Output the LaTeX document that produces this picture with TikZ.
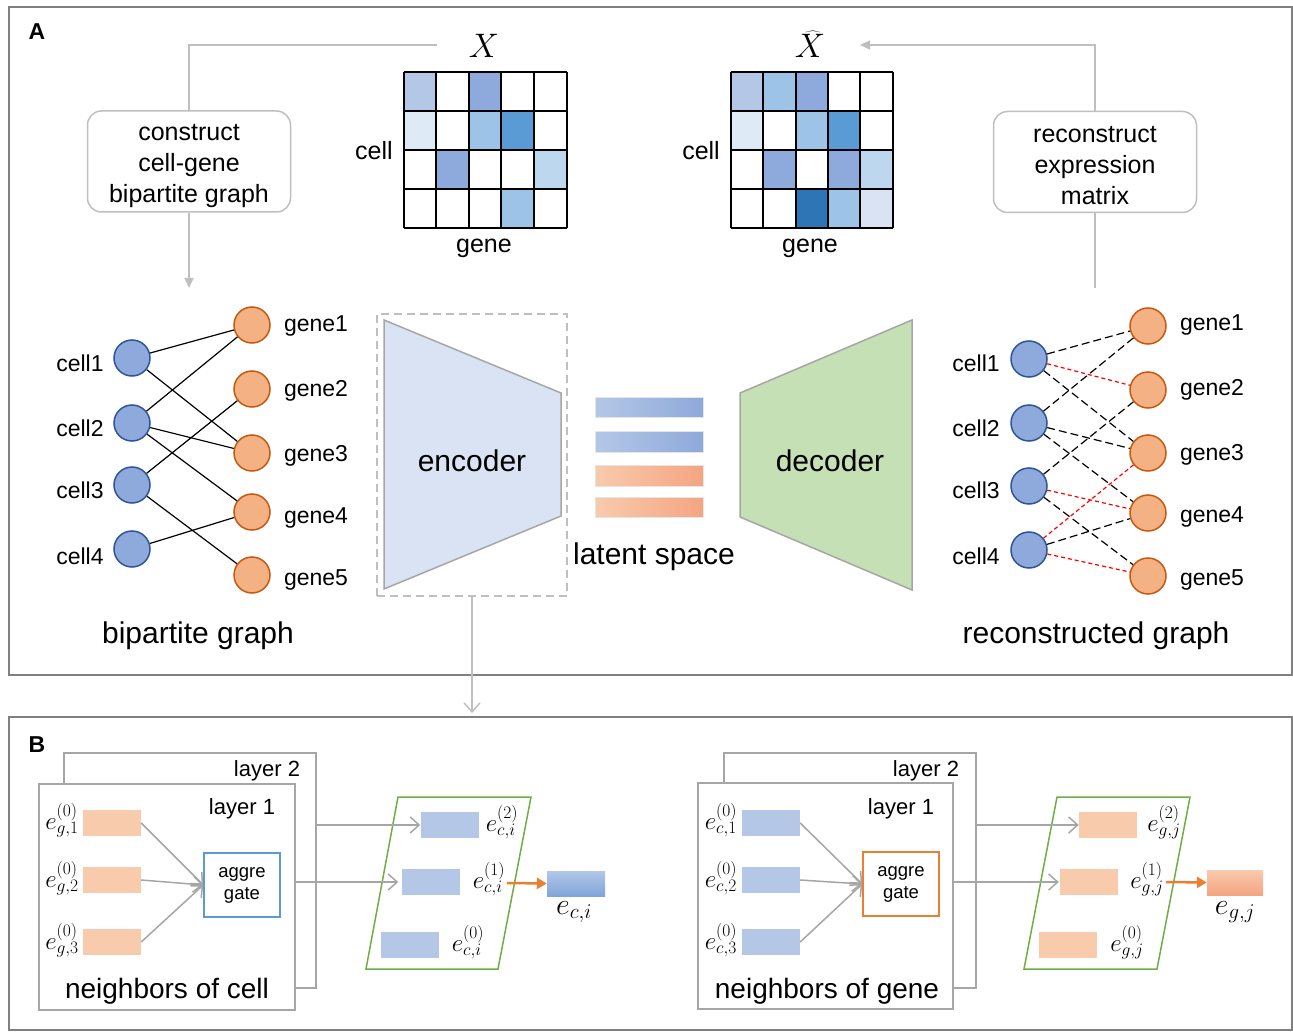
\RequirePackage{fix-cm}
\documentclass[tikz,border=0pt]{standalone}
\usepackage{fontspec}
\setmainfont{Liberation Sans}
\usetikzlibrary{arrows.meta,shapes.geometric}
\newcommand{\myfs}[2]{\fontsize{#1}{#2}\selectfont}
\definecolor{frame}{HTML}{808080}
\definecolor{connc}{HTML}{BFBFBF}
\definecolor{layc}{HTML}{A6A6A6}
\definecolor{cellfill}{HTML}{8EA9DB}
\definecolor{celldraw}{HTML}{2F5597}
\definecolor{genefill}{HTML}{F4B183}
\definecolor{genedraw}{HTML}{C55A11}
\definecolor{mA}{HTML}{B4C7E7}
\definecolor{mB}{HTML}{9DC3E6}
\definecolor{mC}{HTML}{8EA9DB}
\definecolor{mD}{HTML}{5B9BD5}
\definecolor{mE}{HTML}{DEEBF7}
\definecolor{mF}{HTML}{BDD7EE}
\definecolor{mG}{HTML}{2E75B6}
\definecolor{mH}{HTML}{DAE3F3}
\definecolor{encfill}{HTML}{DAE3F3}
\definecolor{decfill}{HTML}{C5E0B4}
\definecolor{trapdraw}{HTML}{A6A6A6}
\definecolor{bluebar}{HTML}{B4C7E7}
\definecolor{orbar}{HTML}{F8CBAD}
\definecolor{ordark}{HTML}{F4A582}
\definecolor{greenp}{HTML}{70AD47}
\definecolor{orarrow}{HTML}{ED7D31}
\definecolor{aggblue}{HTML}{5B9BD5}
\begin{document}
\begin{tikzpicture}[x=1pt,y=-1pt,
  panelframe/.style={draw=frame, line width=2pt},
  conn/.style={draw=connc, line width=1.5pt},
  roundbox/.style={draw=connc, line width=1.5pt, rounded corners=14pt, minimum width=203pt, minimum height=101pt, inner sep=0pt},
  boxtext/.style={align=center, font=\myfs{25}{31}, inner sep=0pt},
  cellnode/.style={circle, fill=cellfill, draw=celldraw, line width=1.5pt, minimum size=36pt, inner sep=0pt},
  genenode/.style={circle, fill=genefill, draw=genedraw, line width=1.5pt, minimum size=36pt, inner sep=0pt},
  lab/.style={font=\myfs{23}{28}, inner sep=0pt},
  biglab/.style={font=\myfs{30}{35}, inner sep=0pt},
  edgeline/.style={draw=black, line width=1.2pt},
  dedge/.style={draw=black, line width=1.2pt, dash pattern=on 8pt off 4pt},
  redge/.style={draw=red, line width=1.2pt, dash pattern=on 4pt off 3pt},
  layerbox/.style={draw=layc, line width=1.5pt, fill=white, inner sep=0pt},
  barrow/.style={draw=layc, line width=1.5pt, -{Straight Barb[length=9pt,width=16pt]}},
  emb/.style={inner sep=0pt, minimum width=58pt, minimum height=26pt},
  elab/.style={inner sep=0pt, font=\myfs{25}{29}},
  aggbox/.style={draw, line width=1.5pt, minimum width=76pt, minimum height=64pt, align=center, font=\myfs{18.5}{22}, inner sep=0pt},
  orarr/.style={draw=orarrow, line width=2.5pt, -{Triangle[length=10pt,width=11pt]}},
  para/.style={draw=greenp, line width=1.5pt}
]
\useasboundingbox (0,0) rectangle (1293,1032);

% ---------- panel frames ----------
\draw[panelframe] (9,7) rectangle (1292,675);
\draw[panelframe] (9,717) rectangle (1292,1030);
\node[font=\bfseries\myfs{23}{26}] (labA) at (37,32) {A};
\node[font=\bfseries\myfs{23}{26}] (labB) at (37,745) {B};

% ---------- matrix X ----------
\foreach \c/\r/\col in {1/1/mA,3/1/mC,1/2/mE,3/2/mB,4/2/mD,2/3/mC,5/3/mF,4/4/mB}
  \fill[\col] ({403.5+(\c-1)*32.6},{72+(\r-1)*39}) rectangle ++(32.6,39);
\foreach \i in {0,...,5} \draw[line width=2pt] ({403.5+\i*32.6},72) -- ({403.5+\i*32.6},228);
\foreach \j in {0,...,4} \draw[line width=2pt] (403.5,{72+\j*39}) -- (566.5,{72+\j*39});
\node[font=\myfs{34}{38}] (Xlab) at (484,46) {$X$};
\node[lab, font=\myfs{25}{30}] (Xcell) at (374,151) {cell};
\node[lab, font=\myfs{25}{30}] (Xgene) at (484,248) {gene};

% ---------- matrix X hat ----------
\foreach \c/\r/\col in {1/1/mA,2/1/mB,3/1/mC,1/2/mE,3/2/mB,4/2/mD,2/3/mC,4/3/mC,5/3/mF,3/4/mG,4/4/mB,5/4/mH}
  \fill[\col] ({731+(\c-1)*32.3},{72+(\r-1)*39}) rectangle ++(32.3,39);
\foreach \i in {0,...,5} \draw[line width=2pt] ({731+\i*32.3},72) -- ({731+\i*32.3},228);
\foreach \j in {0,...,4} \draw[line width=2pt] (731,{72+\j*39}) -- (892.5,{72+\j*39});
\node[font=\myfs{34}{38}] (Xhlab) at (810,44) {$\widehat{X}$};
\node[lab, font=\myfs{25}{30}] (Xhcell) at (701,151) {cell};
\node[lab, font=\myfs{25}{30}] (Xhgene) at (810,248) {gene};

% ---------- top boxes and connectors ----------
\node[roundbox] (cons) at (189,161.5) {};
\node[boxtext] (constext) at (189,166) {construct\\cell-gene\\bipartite graph};
\node[roundbox] (recon) at (1095,162) {};
\node[boxtext] (recontext) at (1095,166) {reconstruct\\expression\\matrix};
\coordinate (xstart) at (437,45);
\coordinate (graphin) at (189,288);
\coordinate (xhatend) at (860,45);
\coordinate (graphout) at (1095,288);
\draw[conn] (xstart) -| (cons.north);
\draw[conn, -{Triangle[length=10pt,width=9pt]}] (cons.south) -- (graphin);
\draw[conn, -{Triangle[length=10pt,width=9pt]}] (recon.north) |- (xhatend);
\draw[conn] (recon.south) -- (graphout);

% ---------- left bipartite graph ----------
\node[cellnode] (c1) at (132,358) {};
\node[cellnode] (c2) at (132,423) {};
\node[cellnode] (c3) at (132,485) {};
\node[cellnode] (c4) at (132,549) {};
\node[genenode] (g1) at (252,325) {};
\node[genenode] (g2) at (252,389) {};
\node[genenode] (g3) at (252,453) {};
\node[genenode] (g4) at (252,512) {};
\node[genenode] (g5) at (252,575) {};
\foreach \n/\y in {1/363,2/428,3/490,4/556} \node[lab] (cl\n) at (80,\y) {cell\n};
\foreach \n/\y in {1/326,2/391,3/456,4/518,5/580} \node[lab] (gl\n) at (316,\y) {gene\n};
\foreach \a/\b in {c1/g1,c1/g3,c2/g1,c2/g3,c2/g4,c3/g2,c3/g5,c4/g4}
  \draw[edgeline] (\a) -- (\b);
\node[biglab] (bglab) at (198,636) {bipartite graph};

% ---------- encoder / latent / decoder ----------
\node[draw=connc, line width=1.2pt, dash pattern=on 8pt off 5pt, minimum width=190pt, minimum height=282pt, inner sep=0pt] (encbox) at (472,455) {};
\draw[fill=encfill, draw=trapdraw, line width=1.5pt] (384,320) -- (561,393) -- (561,516) -- (384,589) -- cycle;
\node[biglab] (enclab) at (472,461) {encoder};
\draw[fill=decfill, draw=trapdraw, line width=1.5pt] (740,393) -- (912,320) -- (912,590) -- (740,517) -- cycle;
\node[biglab] (declab) at (830,461) {decoder};
\shade[left color=mA, right color=mC, draw=white!80!gray, line width=1pt] (595,397) rectangle (703,417);
\shade[left color=mA, right color=mC, draw=white!80!gray, line width=1pt] (595,431) rectangle (703,452);
\shade[left color=orbar, right color=ordark, draw=white!80!gray, line width=1pt] (595,465) rectangle (703,486);
\shade[left color=orbar, right color=ordark, draw=white!80!gray, line width=1pt] (595,497) rectangle (703,517);
\node[biglab] (latlab) at (654,557) {latent space};
\coordinate (Btop) at (472,713);
\draw[conn, -{Straight Barb[length=9pt,width=16pt]}] (encbox.south) -- (Btop);

% ---------- right reconstructed graph ----------
\node[cellnode] (rc1) at (1029,359) {};
\node[cellnode] (rc2) at (1029,423) {};
\node[cellnode] (rc3) at (1029,486) {};
\node[cellnode] (rc4) at (1029,550) {};
\node[genenode] (rg1) at (1148,326) {};
\node[genenode] (rg2) at (1148,390) {};
\node[genenode] (rg3) at (1148,453) {};
\node[genenode] (rg4) at (1148,513) {};
\node[genenode] (rg5) at (1148,576) {};
\foreach \n/\y in {1/363,2/428,3/490,4/556} \node[lab] (rcl\n) at (976,\y) {cell\n};
\foreach \n/\y in {1/325,2/390,3/455,4/517,5/580} \node[lab] (rgl\n) at (1212,\y) {gene\n};
\foreach \a/\b in {rc1/rg1,rc1/rg3,rc2/rg1,rc2/rg3,rc2/rg4,rc3/rg2,rc3/rg5,rc4/rg4}
  \draw[dedge] (\a) -- (\b);
\foreach \a/\b in {rc1/rg2,rc3/rg4,rc4/rg3,rc4/rg5}
  \draw[redge] (\a) -- (\b);
\node[biglab] (rglab) at (1096,636) {reconstructed graph};

% ---------- panel B left ----------
\node[layerbox, minimum width=252pt, minimum height=235pt] (L2a) at (190,870.5) {};
\node[layerbox, minimum width=256pt, minimum height=226pt] (L1a) at (167,897) {};
\node[lab, font=\myfs{22}{26}] (l2a) at (267,771) {layer 2};
\node[lab, font=\myfs{22}{26}] (l1a) at (242,809) {layer 1};
\node[emb, fill=orbar] (na1) at (112,823) {};
\node[emb, fill=orbar] (na2) at (112,880) {};
\node[emb, fill=orbar] (na3) at (112,942) {};
\node[elab] (nla1) at (62,820) {$e^{(0)}_{g,1}$};
\node[elab] (nla2) at (62,878) {$e^{(0)}_{g,2}$};
\node[elab] (nla3) at (62,940) {$e^{(0)}_{g,3}$};
\node[aggbox, draw=aggblue] (agga) at (242,885) {aggre\\gate};
\foreach \n in {na1,na2,na3} \draw[barrow] (\n.east) -- (agga.west);
\node[lab, font=\myfs{28}{32}] (nbca) at (167,991) {neighbors of cell};
\draw[para] (398,797) -- (531,797) -- (498,969) -- (366,969) -- cycle;
\node[emb, fill=bluebar] (ea2) at (449.5,825) {};
\node[emb, fill=bluebar] (ea1) at (430.5,882) {};
\node[emb, fill=bluebar] (ea0) at (409.5,944.5) {};
\node[elab] (eal2) at (502,822) {$e^{(2)}_{c,i}$};
\node[elab] (eal1) at (489,879) {$e^{(1)}_{c,i}$};
\node[elab] (eal0) at (468,942) {$e^{(0)}_{c,i}$};
\draw[barrow] (L2a.east |- ea2.west) -- (ea2.west);
\draw[barrow] (L1a.east |- ea1.west) -- ([xshift=-3pt]ea1.west);
\shade[top color=mA, bottom color=mC!70!mD] (547,871) rectangle (605,896);
\node[emb] (fa) at (576,883.5) {};
\coordinate (oa) at (507,883);
\draw[orarr] (oa) -- (fa.west);
\node[elab, font=\myfs{30}{34}] (fla) at (574,912) {$e_{c,i}$};

% ---------- panel B right ----------
\node[layerbox, minimum width=252pt, minimum height=235pt] (L2b) at (850,870.5) {};
\node[layerbox, minimum width=255pt, minimum height=226pt] (L1b) at (825.5,896) {};
\node[lab, font=\myfs{22}{26}] (l2b) at (926,771) {layer 2};
\node[lab, font=\myfs{22}{26}] (l1b) at (901,809) {layer 1};
\node[emb, fill=bluebar] (nb1) at (771,823) {};
\node[emb, fill=bluebar] (nb2) at (771,880) {};
\node[emb, fill=bluebar] (nb3) at (771,942) {};
\node[elab] (nlb1) at (721,820) {$e^{(0)}_{c,1}$};
\node[elab] (nlb2) at (721,878) {$e^{(0)}_{c,2}$};
\node[elab] (nlb3) at (721,940) {$e^{(0)}_{c,3}$};
\node[aggbox, draw=orarrow] (aggb) at (901,884) {aggre\\gate};
\foreach \n in {nb1,nb2,nb3} \draw[barrow] (\n.east) -- (aggb.west);
\node[lab, font=\myfs{28}{32}] (nbcb) at (827,991) {neighbors of gene};
\draw[para] (1057,797) -- (1190,797) -- (1157,969) -- (1024,969) -- cycle;
\node[emb, fill=orbar] (eb2) at (1108,825) {};
\node[emb, fill=orbar] (eb1) at (1089,882) {};
\node[emb, fill=orbar] (eb0) at (1068,944.5) {};
\node[elab] (ebl2) at (1164,822) {$e^{(2)}_{g,j}$};
\node[elab] (ebl1) at (1147,879) {$e^{(1)}_{g,j}$};
\node[elab] (ebl0) at (1127,942) {$e^{(0)}_{g,j}$};
\draw[barrow] (L2b.east |- eb2.west) -- (eb2.west);
\draw[barrow] (L1b.east |- eb1.west) -- ([xshift=-1pt]eb1.west);
\shade[top color=orbar, bottom color=ordark] (1207,870) rectangle (1263,895);
\node[emb, minimum width=56pt, minimum height=25pt] (fb) at (1235,882.5) {};
\coordinate (ob) at (1166,882);
\draw[orarr] (ob) -- (fb.west);
\node[elab, font=\myfs{30}{34}] (flb) at (1235,912) {$e_{g,j}$};
\end{tikzpicture}
\end{document}
